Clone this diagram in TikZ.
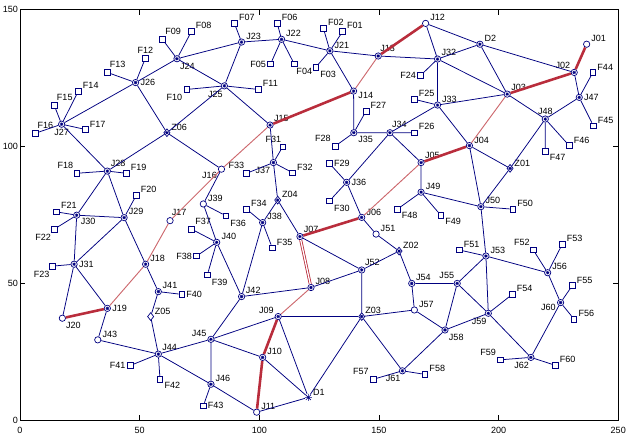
\documentclass[tikz,border=0pt]{standalone}
\usepackage{fontspec}
\setmainfont{Liberation Sans}
\usetikzlibrary{shapes.geometric}

\definecolor{netblue}{RGB}{0,0,128}
\definecolor{pathred}{RGB}{185,45,60}
\definecolor{pathpink}{RGB}{205,105,110}

\newcommand{\netstar}{%
  \draw[netblue,line width=0.45pt]
    ([xshift=-1.5pt]path picture bounding box.center) -- ([xshift=1.5pt]path picture bounding box.center)
    ([yshift=-1.5pt]path picture bounding box.center) -- ([yshift=1.5pt]path picture bounding box.center)
    ([shift={(-1.1pt,-1.1pt)}]path picture bounding box.center) -- ([shift={(1.1pt,1.1pt)}]path picture bounding box.center)
    ([shift={(-1.1pt,1.1pt)}]path picture bounding box.center) -- ([shift={(1.1pt,-1.1pt)}]path picture bounding box.center);}

\tikzset{
  lbl/.style={font=\fontsize{7.7}{8}\selectfont, inner sep=1pt, text=black},
  jo/.style={circle, draw=netblue, line width=0.6pt, inner sep=0pt, minimum size=0.19cm},
  jn/.style={jo, path picture={\netstar}},
  zo/.style={diamond, draw=netblue, line width=0.6pt, inner sep=0pt, minimum width=0.19cm, minimum height=0.24cm},
  zn/.style={zo, path picture={\netstar}},
  fd/.style={rectangle, draw=netblue, line width=0.6pt, inner sep=0pt, minimum size=0.17cm},
  src/.style={circle, inner sep=0pt, minimum size=0.2cm},
  net/.style={netblue, line width=0.65pt},
  hot/.style={pathred, line width=2.2pt},
  warm/.style={pathpink, line width=0.8pt},
  twin/.style={pathred, line width=0.7pt, double=white, double distance=1.1pt},
  ticklbl/.style={font=\fontsize{7.7}{8}\selectfont, inner sep=1.5pt}
}

\begin{document}
\begin{tikzpicture}[x=0.07179cm, y=0.0822cm]
    \useasboundingbox (-8.358,-5.22) rectangle (255.33,153.54);

    % frame and ticks
    \draw[line width=0.6pt] (0,0) rectangle (250,150);
    \draw[line width=0.5pt] (50,0) -- (50,2) (100,0) -- (100,2) (150,0) -- (150,2) (200,0) -- (200,2);
    \draw[line width=0.5pt] (50,150) -- (50,148) (100,150) -- (100,148) (150,150) -- (150,148) (200,150) -- (200,148);
    \draw[line width=0.5pt] (0,50) -- (2.2,50) (0,100) -- (2.2,100);
    \draw[line width=0.5pt] (250,50) -- (247.8,50) (250,100) -- (247.8,100);

    \node[ticklbl,below,yshift=-4pt] (x0) at (0,0) {0};
    \node[ticklbl,below,yshift=-4pt] (x50) at (50,0) {50};
    \node[ticklbl,below,yshift=-4pt] (x100) at (100,0) {100};
    \node[ticklbl,below,yshift=-4pt] (x150) at (150,0) {150};
    \node[ticklbl,below,yshift=-4pt] (x200) at (200,0) {200};
    \node[ticklbl,below,yshift=-4pt] (x250) at (250,0) {250};
    \node[ticklbl,left] (y0) at (0,0) {0};
    \node[ticklbl,left] (y50) at (0,50) {50};
    \node[ticklbl,left] (y100) at (0,100) {100};
    \node[ticklbl,left] (y150) at (0,150) {150};

    % junctions
    \node[jo,label={[lbl]17:J01}] (J01) at (236.8,137.4) {};
    \node[jn,label={[lbl]140:J02}] (J02) at (231.6,127.1) {};
    \node[jn,label={[lbl]39:J03}] (J03) at (203.6,119.2) {};
    \node[jn,label={[lbl]12:J04}] (J04) at (187.8,100.4) {};
    \node[jn,label={[lbl]40:J05}] (J05) at (167.6,94.2) {};
    \node[jn,label={[lbl]11:J06}] (J06) at (142.8,74.2) {};
    \node[jn,label={[lbl]45:J07}] (J07) at (117.0,67.2) {};
    \node[jn,label={[lbl]28:J08}] (J08) at (121.6,48.6) {};
    \node[jn,label={[lbl]150:J09}] (J09) at (107.9,38.0) {};
    \node[jn,label={[lbl]17:J10}] (J10) at (101.4,23.1) {};
    \node[jo,label={[lbl]24:J11}] (J11) at (98.9,3.1) {};
    \node[jo,label={[lbl]22:J12}] (J12) at (169.5,145.0) {};
    \node[jn,label={[lbl]80:J13}] (J13) at (149.7,133.1) {};
    \node[jn,label={[lbl]-5:J14}] (J14) at (139.4,120.3) {};
    \node[jn,label={[lbl]40:J15}] (J15) at (104.5,107.9) {};
    \node[jo,label={[lbl]200:J16}] (J16) at (84.2,91.8) {};
    \node[jo,label={[lbl]85:J17}] (J17) at (62.7,73.0) {};
    \node[jn,label={[lbl]20:J18}] (J18) at (52.5,57.1) {};
    \node[jn,label={[lbl]0:J19}] (J19) at (36.5,41.0) {};
    \node[jo,label={[lbl]-50:J20}] (J20) at (17.7,37.4) {};
    \node[jn,label={[lbl]18:J21}] (J21) at (129.5,135.0) {};
    \node[jn,label={[lbl]22:J22}] (J22) at (109.3,139.2) {};
    \node[jn,label={[lbl]20:J23}] (J23) at (92.6,138.2) {};
    \node[jn,label={[lbl]-60:J24}] (J24) at (65.6,132.1) {};
    \node[jn,label={[lbl]-95:J25}] (J25) at (85.4,122.2) {};
    \node[jn,label={[lbl]0:J26}] (J26) at (48.3,123.4) {};
    \node[jn,label={[lbl]-90:J27}] (J27) at (17.4,108.2) {};
    \node[jn,label={[lbl]53:J28}] (J28) at (36.5,91.1) {};
    \node[jn,label={[lbl]22:J29}] (J29) at (43.5,74.1) {};
    \node[jn,label={[lbl]-36:J30}] (J30) at (23.7,75.0) {};
    \node[jn,label={[lbl]0:J31}] (J31) at (22.6,57.1) {};
    \node[jn,label={[lbl]41:J32}] (J32) at (174.5,132.0) {};
    \node[jn,label={[lbl]26:J33}] (J33) at (174.5,115.2) {};
    \node[jn,label={[lbl]77:J34}] (J34) at (154.6,105.1) {};
    \node[jn,label={[lbl]-30:J35}] (J35) at (139.5,105.1) {};
    \node[jn,label={[lbl]0:J36}] (J36) at (136.5,87.0) {};
    \node[jn,label={[lbl]-120:J37}] (J37) at (105.9,94.2) {};
    \node[jn,label={[lbl]20:J38}] (J38) at (101.4,72.3) {};
    \node[jo,label={[lbl]19:J39}] (J39) at (76.6,79.1) {};
    \node[jn,label={[lbl]15:J40}] (J40) at (82.2,65.1) {};
    \node[jn,label={[lbl]31:J41}] (J41) at (57.8,47.1) {};
    \node[jn,label={[lbl]32:J42}] (J42) at (92.6,45.3) {};
    \node[jo,label={[lbl]18:J43}] (J43) at (32.5,29.5) {};
    \node[jn,label={[lbl]40:J44}] (J44) at (57.8,24.3) {};
    \node[jn,label={[lbl]150:J45}] (J45) at (79.8,29.7) {};
    \node[jn,label={[lbl]22:J46}] (J46) at (79.8,13.3) {};
    \node[jn,label={[lbl]0:J47}] (J47) at (233.7,118.0) {};
    \node[jn,label={[lbl]88:J48}] (J48) at (219.5,110.1) {};
    \node[jn,label={[lbl]19:J49}] (J49) at (167.6,83.4) {};
    \node[jn,label={[lbl]22:J50}] (J50) at (192.6,78.1) {};
    \node[jo,label={[lbl]22:J51}] (J51) at (148.8,68.1) {};
    \node[jn,label={[lbl]56:J52}] (J52) at (142.8,55.0) {};
    \node[jn,label={[lbl]19:J53}] (J53) at (194.7,60.1) {};
    \node[jn,label={[lbl]30:J54}] (J54) at (163.7,50.1) {};
    \node[jn,label={[lbl]120:J55}] (J55) at (182.7,50.1) {};
    \node[jn,label={[lbl]22:J56}] (J56) at (220.5,54.0) {};
    \node[jo,label={[lbl]19:J57}] (J57) at (164.8,40.4) {};
    \node[jn,label={[lbl]-43:J58}] (J58) at (177.6,33.1) {};
    \node[jn,label={[lbl]-100:J59}] (J59) at (195.7,39.2) {};
    \node[jn,label={[lbl]190:J60}] (J60) at (225.9,43.1) {};
    \node[jn,label={[lbl]-100:J61}] (J61) at (159.8,18.2) {};
    \node[jn,label={[lbl]-100:J62}] (J62) at (213.5,23.1) {};
    \node[jn,label={[lbl]17:D2}] (D2) at (192.2,137.4) {};
    \node[src,label={[lbl]14:D1}] (D1) at (120.5,8.5) {};
    \draw[netblue,line width=0.6pt] (D1.north) -- (D1.south) (D1.east) -- (D1.west)
        (D1.north east) -- (D1.south west) (D1.north west) -- (D1.south east);

    % zones
    \node[zn,label={[lbl]12:Z01}] (Z01) at (204.8,92.1) {};
    \node[zn,label={[lbl]19:Z02}] (Z02) at (158.4,61.9) {};
    \node[zn,label={[lbl]32:Z03}] (Z03) at (142.8,38.0) {};
    \node[zn,label={[lbl]14:Z04}] (Z04) at (107.7,80.5) {};
    \node[zo,label={[lbl]18:Z05}] (Z05) at (54.6,38.0) {};
    \node[zn,label={[lbl]10:Z06}] (Z06) at (61.4,105.1) {};

    % feeders
    \node[fd,label={[lbl]25:F01}] (F01) at (134.8,142.0) {};
    \node[fd,label={[lbl]27:F02}] (F02) at (126.8,143.2) {};
    \node[fd,label={[lbl]-41:F03}] (F03) at (123.6,129.0) {};
    \node[fd,label={[lbl]-75:F04}] (F04) at (114.6,130.2) {};
    \node[fd,label={[lbl]180:F05}] (F05) at (104.7,130.2) {};
    \node[fd,label={[lbl]20:F06}] (F06) at (107.5,145.0) {};
    \node[fd,label={[lbl]22:F07}] (F07) at (89.6,145.0) {};
    \node[fd,label={[lbl]20:F08}] (F08) at (71.6,142.0) {};
    \node[fd,label={[lbl]65:F09}] (F09) at (59.5,139.2) {};
    \node[fd,label={[lbl]-135:F10}] (F10) at (69.7,120.9) {};
    \node[fd,label={[lbl]19:F11}] (F11) at (99.6,120.9) {};
    \node[fd,label={[lbl]90:F12}] (F12) at (52.4,132.3) {};
    \node[fd,label={[lbl]70:F13}] (F13) at (36.5,127.1) {};
    \node[fd,label={[lbl]15:F14}] (F14) at (24.4,120.3) {};
    \node[fd,label={[lbl]67:F15}] (F15) at (14.3,115.1) {};
    \node[fd,label={[lbl]74:F16}] (F16) at (6.4,104.9) {};
    \node[fd,label={[lbl]15:F17}] (F17) at (27.3,106.3) {};
    \node[fd,label={[lbl]125:F18}] (F18) at (23.7,90.3) {};
    \node[fd,label={[lbl]16:F19}] (F19) at (44.4,90.3) {};
    \node[fd,label={[lbl]15:F20}] (F20) at (48.6,82.3) {};
    \node[fd,label={[lbl]38:F21}] (F21) at (15.3,76.2) {};
    \node[fd,label={[lbl]-120:F22}] (F22) at (14.3,69.9) {};
    \node[fd,label={[lbl]-115:F23}] (F23) at (13.5,56.4) {};
    \node[fd,label={[lbl]180:F24}] (F24) at (167.4,126.0) {};
    \node[fd,label={[lbl]16:F25}] (F25) at (164.8,117.3) {};
    \node[fd,label={[lbl]25:F26}] (F26) at (164.8,105.1) {};
    \node[fd,label={[lbl]22:F27}] (F27) at (144.6,113.0) {};
    \node[fd,label={[lbl]140:F28}] (F28) at (131.7,100.2) {};
    \node[fd,label={[lbl]0:F29}] (F29) at (129.3,93.9) {};
    \node[fd,label={[lbl]-43:F30}] (F30) at (129.3,80.2) {};
    \node[fd,label={[lbl]95:F31}] (F31) at (109.8,100.0) {};
    \node[fd,label={[lbl]12:F32}] (F32) at (113.9,90.5) {};
    \node[fd,label={[lbl]110:F33}] (F33) at (94.7,90.3) {};
    \node[fd,label={[lbl]22:F34}] (F34) at (94.7,77.2) {};
    \node[fd,label={[lbl]14:F35}] (F35) at (105.4,63.1) {};
    \node[fd,label={[lbl]-39:F36}] (F36) at (86.0,74.8) {};
    \node[fd,label={[lbl]54:F37}] (F37) at (71.7,69.9) {};
    \node[fd,label={[lbl]180:F38}] (F38) at (73.8,60.1) {};
    \node[fd,label={[lbl]-40:F39}] (F39) at (78.3,53.2) {};
    \node[fd,label={[lbl]0:F40}] (F40) at (67.6,46.1) {};
    \node[fd,label={[lbl]180:F41}] (F41) at (46.0,20.1) {};
    \node[fd,label={[lbl]-25:F42}] (F42) at (58.5,15.2) {};
    \node[fd,label={[lbl]0:F43}] (F43) at (76.6,5.4) {};
    \node[fd,label={[lbl]17:F44}] (F44) at (239.4,127.1) {};
    \node[fd,label={[lbl]15:F45}] (F45) at (239.6,107.6) {};
    \node[fd,label={[lbl]13:F46}] (F46) at (229.5,100.4) {};
    \node[fd,label={[lbl]-28:F47}] (F47) at (219.5,98.4) {};
    \node[fd,label={[lbl]-27:F48}] (F48) at (157.7,77.2) {};
    \node[fd,label={[lbl]-23:F49}] (F49) at (175.8,75.0) {};
    \node[fd,label={[lbl]20:F50}] (F50) at (205.9,77.2) {};
    \node[fd,label={[lbl]17:F51}] (F51) at (183.6,62.3) {};
    \node[fd,label={[lbl]125:F52}] (F52) at (214.5,62.3) {};
    \node[fd,label={[lbl]18:F53}] (F53) at (226.6,64.4) {};
    \node[fd,label={[lbl]20:F54}] (F54) at (205.7,46.1) {};
    \node[fd,label={[lbl]13:F55}] (F55) at (230.8,49.3) {};
    \node[fd,label={[lbl]20:F56}] (F56) at (231.5,37.1) {};
    \node[fd,label={[lbl]135:F57}] (F57) at (147.6,15.1) {};
    \node[fd,label={[lbl]19:F58}] (F58) at (169.2,16.9) {};
    \node[fd,label={[lbl]130:F59}] (F59) at (200.6,22.2) {};
    \node[fd,label={[lbl]18:F60}] (F60) at (223.7,20.2) {};

    % network lines
    \draw[net] (J27) -- (F14) (J27) -- (F15) (J27) -- (F16) (J27) -- (F17) (J27) -- (J26) (J27) -- (J28);
    \draw[net] (J26) -- (F12) (J26) -- (F13) (J26) -- (J24) (J26) -- (Z06);
    \draw[net] (J24) -- (F08) (J24) -- (F09) (J24) -- (J23) (J24) -- (J25);
    \draw[net] (J23) -- (F07) (J23) -- (J22) (J23) -- (J25);
    \draw[net] (J22) -- (F04) (J22) -- (F05) (J22) -- (F06) (J22) -- (J21);
    \draw[net] (J21) -- (F01) (J21) -- (F02) (J21) -- (F03) (J21) -- (J13) (J21) -- (J14);
    \draw[net] (J25) -- (F10) (J25) -- (F11) (J25) -- (J15) (J25) -- (Z06);
    \draw[net] (Z06) -- (J28) (Z06) -- (J16);
    \draw[net] (J28) -- (F18) (J28) -- (F19) (J28) -- (J29) (J28) -- (J30);
    \draw[net] (J30) -- (F21) (J30) -- (F22) (J30) -- (J29) (J30) -- (J31);
    \draw[net] (J29) -- (F20) (J29) -- (J18) (J29) -- (J31);
    \draw[net] (J31) -- (F23) (J31) -- (J20) (J31) -- (J19);
    \draw[net] (J19) -- (J43) (J18) -- (J41) (J41) -- (F40) (J41) -- (Z05) (Z05) -- (J44);
    \draw[net] (J44) -- (J43) (J44) -- (F41) (J44) -- (F42) (J44) -- (J45) (J44) -- (J46);
    \draw[net] (J45) -- (J42) (J45) -- (J09) (J45) -- (J46) (J45) -- (J10);
    \draw[net] (J46) -- (F43) (J46) -- (J11);
    \draw[net] (J42) -- (J40) (J42) -- (J38) (J42) -- (J08);
    \draw[net] (J40) -- (F37) (J40) -- (F38) (J40) -- (F39) (J40) -- (J39);
    \draw[net] (J39) -- (J16) (J39) -- (F36);
    \draw[net] (J15) -- (J37) (J37) -- (F31) (J37) -- (F32) (J37) -- (F33) (J37) -- (Z04);
    \draw[net] (Z04) -- (J38) (Z04) -- (J07) (J38) -- (F34) (J38) -- (F35);
    \draw[net] (J07) -- (J52) (J08) -- (J52);
    \draw[net] (J09) -- (Z03) (J09) -- (D1) (J10) -- (D1) (J11) -- (D1) (D1) -- (Z03);
    \draw[net] (Z03) -- (J52) (Z03) -- (J61) (Z03) -- (J57);
    \draw[net] (J61) -- (F57) (J61) -- (F58) (J61) -- (J58);
    \draw[net] (J58) -- (J57) (J58) -- (J55) (J58) -- (J59);
    \draw[net] (J59) -- (J53) (J59) -- (F54) (J59) -- (J62) (J59) -- (J55);
    \draw[net] (J62) -- (F59) (J62) -- (F60) (J62) -- (J60);
    \draw[net] (J60) -- (F55) (J60) -- (F56) (J60) -- (J56);
    \draw[net] (J56) -- (F52) (J56) -- (F53) (J56) -- (J53);
    \draw[net] (J53) -- (F51) (J53) -- (J50) (J53) -- (J55);
    \draw[net] (J55) -- (J54) (J54) -- (J57) (J54) -- (Z02);
    \draw[net] (Z02) -- (J52) (Z02) -- (J51) (J06) -- (J51) (J06) -- (J36);
    \draw[net] (J36) -- (F29) (J36) -- (F30) (J36) -- (J34);
    \draw[net] (J34) -- (J35) (J34) -- (F26) (J34) -- (J33) (J34) -- (J05);
    \draw[net] (J35) -- (F27) (J35) -- (F28) (J35) -- (J14);
    \draw[net] (J13) -- (J32) (J12) -- (J32) (J12) -- (D2);
    \draw[net] (J32) -- (F24) (J32) -- (D2) (J32) -- (J33) (J32) -- (J03);
    \draw[net] (D2) -- (J02) (D2) -- (J03);
    \draw[net] (J33) -- (F25) (J33) -- (J03) (J33) -- (J04);
    \draw[net] (J03) -- (J48) (J48) -- (J47) (J48) -- (F46) (J48) -- (F47) (J48) -- (Z01);
    \draw[net] (J47) -- (J02) (J47) -- (F44) (J47) -- (F45);
    \draw[net] (J04) -- (J50) (J04) -- (Z01) (Z01) -- (J50);
    \draw[net] (J05) -- (J49) (J49) -- (F48) (J49) -- (F49) (J49) -- (J50) (J50) -- (F50);

    % marked routes
    \draw[hot] (J20) -- (J19);
    \draw[warm] (J19) -- (J18) (J18) -- (J17) (J17) -- (J16) (J16) -- (J15);
    \draw[hot] (J15) -- (J14);
    \draw[warm] (J14) -- (J13);
    \draw[hot] (J13) -- (J12);
    \draw[hot] (J01) -- (J02) (J02) -- (J03);
    \draw[warm] (J03) -- (J04);
    \draw[hot] (J04) -- (J05);
    \draw[warm] (J05) -- (J06);
    \draw[hot] (J06) -- (J07);
    \draw[twin] (J07) -- (J08);
    \draw[warm] (J08) -- (J09);
    \draw[hot] (J09) -- (J10) (J10) -- (J11);
\end{tikzpicture}
\end{document}
